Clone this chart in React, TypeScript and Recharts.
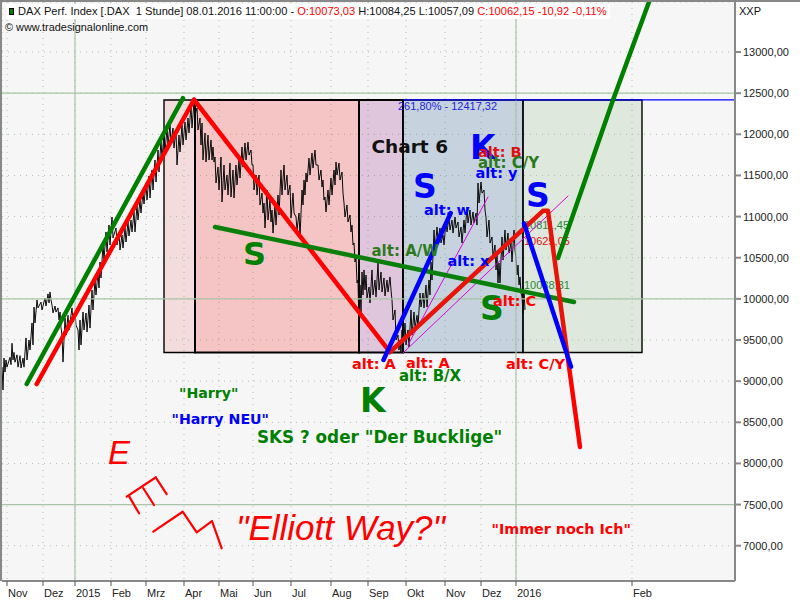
import { ComposedChart, Line, XAxis, YAxis, CartesianGrid, ReferenceArea, ReferenceLine, ReferenceDot } from "recharts"

// x is a running bar position along the time axis
const priceX = [2,4,6,10,12,14,17,20,23,26,29,32,34,37,41,45,48,50,52,55,58,60,62,65,68,72,75,78,80,83,86,89,92,95,98,100,103,106,109,112,116,119,122,125,128,131,134,137,140,143,146,149,152,155,158,161,164,167,170,173,176,179,182,185,188,191,194,197,200,202,205,208,211,213,215,218,221,224,227,230,233,236,239,242,245,248,251,253,256,259,262,264,267,270,272,275,278,281,284,287,290,293,296,299,302,304,306,309,312,315,318,321,323,325,328,331,334,336,339,342,344,347,350,352,354,356,358,360,362,364,366,369,372,375,378,381,384,387,390,392,395,398,400,402,405,408,411,414,417,420,423,426,429,431,434,437,440,443,446,449,452,455,458,461,464,467,470,473,476,478,481,484,486,489,492,495,497,499,502,505,508,511,514,516,518,520,522,524]
const priceHigh = [9172,9280,9257,9290,9460,9350,9320,9310,9280,9525,9500,9707,9900,9986,9960,10010,10060,10083,9925,9913,9890,9840,9560,9770,9800,9890,9840,9622,9743,9840,9828,9925,10108,10229,10326,10448,10655,10813,10898,10995,10861,10800,10776,10861,10934,10958,11056,11140,11201,11298,11408,11493,11566,11688,11809,11931,12028,12076,12113,12076,12052,11991,12113,12150,12198,12356,12392,12320,12198,12137,12016,11991,11931,11846,11724,11602,11724,11627,11505,11651,11566,11627,11688,11846,11895,11906,11809,11627,11505,11505,11286,11165,11323,11201,11080,11141,11262,11566,11627,11505,11384,11286,10995,11043,11323,11444,11530,11712,11773,11809,11627,11566,11444,11238,11323,11469,11566,11663,11651,11541,11165,11141,11019,10897,10679,10509,10229,10168,10326,10351,10290,10144,10351,10229,10436,10326,10254,10229,10266,9986,9865,9560,9500,9622,9707,9622,9865,9840,9800,10071,10071,10168,10229,10448,10837,10873,10861,10776,10958,10995,10958,10995,10934,10873,10958,11116,11080,11056,11043,11408,11420,11323,10995,10958,10752,10655,10533,10436,10752,10837,10800,10679,10837,10497,10412,10266,10022,10108]
const priceLow = [8892,9110,9170,9200,9257,9230,9170,9160,9170,9257,9378,9440,9707,9890,9865,9913,9950,9986,9830,9840,9743,9650,9232,9560,9622,9720,9680,9378,9440,9622,9597,9645,9865,10047,10132,10254,10472,10570,10655,10740,10655,10594,10618,10691,10764,10813,10813,10958,11043,11153,11201,11226,11323,11420,11541,11688,11785,11870,11894,11833,11627,11785,11870,11931,12016,12076,12234,12052,11870,11688,11663,11688,11688,11663,11408,11323,11177,11323,11262,11238,11226,11384,11469,11602,11688,11748,11627,11323,11262,11141,11043,10861,10958,10934,10800,10897,11019,11262,11323,11262,10983,11043,10837,10752,11141,11262,11420,11505,11590,11627,11444,11359,11201,11056,11141,11262,11384,11505,11444,11286,10995,10934,10813,10655,10448,10193,9622,9840,10047,10108,10010,9950,10047,10022,10108,10083,10035,10083,10108,9743,9500,9378,9342,9354,9440,9415,9560,9645,9658,9901,9889,9901,10047,10229,10594,10715,10679,10655,10813,10837,10800,10861,10752,10679,10800,10922,10897,10922,10897,11165,11286,11080,10752,10679,10509,10351,10193,10193,10472,10594,10557,10448,10594,10290,10169,10071,9828,9865]

const priceTicks = [7000,7500,8000,8500,9000,9500,10000,10500,11000,11500,12000,12500,13000]
const majorPrices = [7500,10000,12500]
const timeTicks = [7,43,75,111,146,184,219,253,291,331,368,406,445,481,516,632]
const timeLabels = ["Nov","Dez","2015","Feb","Mrz","Apr","Mai","Jun","Jul","Aug","Sep","Okt","Nov","Dez","2016","Feb"]
const majorTimes = [75,516]

const boxLow = 9348
const boxHigh = 12417
const boxEdges = [164,195,359,403,523,642]
const boxFills = ["#f19191","#f13531","#9d3991","#396d99","#9dc195"]
const fibLevel = 12417.32

const greenRise = [{ x: 26.7, p: 8965 }, { x: 183, p: 12440 }]
const redRise = [{ x: 36.7, p: 8965 }, { x: 194, p: 12420 }]
const redFall = [{ x: 194, p: 12420 }, { x: 390, p: 9354 }]
const shoulderLine = [{ x: 215, p: 10873 }, { x: 574, p: 9962 }]
const blueRise = [{ x: 383.5, p: 9257 }, { x: 450.7, p: 11043 }]
const blueFall = [{ x: 524, p: 10917 }, { x: 571, p: 9176 }]
const greenForecast = [{ x: 558, p: 10496 }, { x: 613, p: 12417 }, { x: 649, p: 13608 }]
const redSwing = [{ x: 390, p: 9354 }, { x: 543, p: 11070 }, { x: 548, p: 11070 }, { x: 567, p: 9354 }]
const redForecast = [{ x: 567, p: 9354 }, { x: 580, p: 8200 }]
const channelA = [{ x: 408, p: 9440 }, { x: 488, p: 11238 }]
const channelB = [{ x: 403, p: 9342 }, { x: 568, p: 11250 }]

const sketchE = [
  [{ x: 126.7, p: 7596 }, { x: 156, p: 7832 }],
  [{ x: 129.3, p: 7596 }, { x: 139, p: 7394 }],
  [{ x: 143.3, p: 7698 }, { x: 154, p: 7495 }],
  [{ x: 156.7, p: 7811 }, { x: 166.7, p: 7626 }],
]
const sketchWave = [{ x: 153.3, p: 7170 }, { x: 182.7, p: 7413 }, { x: 196.7, p: 7163 }, { x: 212, p: 7300 }, { x: 221.7, p: 6968 }]

const priceSeries = priceX.flatMap((x, i) => [
  { x, p: priceHigh[i] },
  { x: x + 1, p: priceLow[i] },
])

const BOLD = "'DejaVu Sans', sans-serif"
const PLAIN = "'Liberation Sans', sans-serif"
const GREEN = "#008000"
const BLUE = "#0000ff"
const RED = "#ff0000"

const notes = [
  { t: "Chart 6", x: 371.5, p: 11773, c: "#111111", s: 18.5 },
  { t: "S", x: 243, p: 10411, c: GREEN, s: 32 },
  { t: "S", x: 413, p: 11226, c: BLUE, s: 33 },
  { t: "K", x: 470, p: 11700, c: BLUE, s: 33 },
  { t: "S", x: 526, p: 11116, c: BLUE, s: 33 },
  { t: "S", x: 480, p: 9743, c: GREEN, s: 33 },
  { t: "K", x: 360, p: 8620, c: GREEN, s: 33 },
  { t: "alt: A", x: 352, p: 9148, c: RED, s: 14.5 },
  { t: "alt: A", x: 406, p: 9160, c: RED, s: 14.5 },
  { t: "alt: B/X", x: 399, p: 9002, c: GREEN, s: 15 },
  { t: "alt: C/Y", x: 506, p: 9148, c: RED, s: 14.5 },
  { t: "alt: C", x: 493, p: 9916, c: RED, s: 14.5 },
  { t: "alt: x", x: 447.5, p: 10403, c: BLUE, s: 14.5 },
  { t: "alt: w", x: 424, p: 11019, c: BLUE, s: 14.5 },
  { t: "alt: y", x: 475.5, p: 11473, c: BLUE, s: 14.5 },
  { t: "alt: B", x: 478, p: 11724, c: "#e01010", s: 14.5 },
  { t: "alt: C/Y", x: 478, p: 11594, c: "#2d7a1e", s: 15 },
  { t: "alt: A/W", x: 371.5, p: 10521, c: "#2d7a1e", s: 15 },
  { t: "\"Harry\"", x: 179, p: 8799, c: GREEN, s: 14.2 },
  { t: "\"Harry NEU\"", x: 171.5, p: 8479, c: BLUE, s: 14.2 },
  { t: "SKS ? oder \"Der Bucklige\"", x: 257, p: 8248, c: GREEN, s: 16.8 },
  { t: "\"Immer noch Ich\"", x: 491.5, p: 7142, c: RED, s: 14.3 },
]

const smallNotes = [
  { t: "261,80% - 12417,32", x: 398, p: 12290, c: "#2222dd" },
  { t: "10811,45", x: 524, p: 10849, c: "#2a8a3a" },
  { t: "10625,05", x: 524, p: 10654, c: "#e01010" },
  { t: "10038,31", x: 524, p: 10120, c: "#2a8a3a" },
]

const italicNotes = [
  { t: "E", x: 108, p: 7997, s: 33 },
  { t: "\"Elliott Way?\"", x: 236, p: 7070, s: 35 },
]

const TimeTick = ({ x, y, payload, index }: any) => (
  <g>
    <line x1={x} x2={x} y1={y - 8} y2={y - 3} stroke="#555555" />
    <text x={x + 1} y={y + 8} fontSize={11} fontFamily={PLAIN} fill="#222222">
      {timeLabels[index] ?? payload.value}
    </text>
  </g>
)

const PriceTick = ({ x, y, payload }: any) => (
  <text x={x} y={y + 4} fontSize={11} fontFamily={PLAIN} fill="#222222">
    {payload.value.toFixed(2).replace(".", ",")}
  </text>
)

const Trend = (data: { x: number; p: number }[], color: string, width: number, key: string) => (
  <Line
    key={key}
    data={data}
    dataKey="p"
    stroke={color}
    strokeWidth={width}
    strokeLinecap="round"
    strokeLinejoin="round"
    dot={false}
    activeDot={false}
    legendType="none"
    isAnimationActive={false}
    zIndex={400}
  />
)

export default function App() {
  return (
    <div style={{ position: "absolute", left: 0, top: 0, width: 800, height: 600, background: "#ffffff" }}>
      <ComposedChart width={800} height={600} margin={{ top: 2, right: 0, bottom: 0, left: 2 }}>
        <CartesianGrid fill="#f6f6f6" stroke="#a9c4a9" strokeDasharray="1 5" />
        <XAxis
          type="number"
          dataKey="x"
          domain={[2, 735]}
          ticks={timeTicks}
          interval={0}
          height={19}
          tick={<TimeTick />}
          tickLine={false}
          stroke="#888888"
          strokeWidth={2}
        />
        <YAxis
          orientation="right"
          type="number"
          domain={[6571, 13608]}
          ticks={priceTicks}
          interval={0}
          width={65}
          tick={<PriceTick />}
          tickSize={6}
          stroke="#888888"
          strokeWidth={2}
        />
        {majorPrices.map((p) => (
          <ReferenceLine key={p} y={p} stroke="#a9c4a9" strokeWidth={1.2} />
        ))}
        {majorTimes.map((x) => (
          <ReferenceLine key={x} x={x} stroke="#a9c4a9" strokeWidth={1.2} />
        ))}
        {boxFills.map((fill, i) => (
          <ReferenceArea
            key={fill}
            x1={boxEdges[i]}
            x2={boxEdges[i + 1]}
            y1={boxLow}
            y2={boxHigh}
            fill={fill}
            fillOpacity={0.25}
            stroke="#000000"
            strokeWidth={i > 0 && i < 3 ? 2 : 1.4}
          />
        ))}
        <Line
          data={priceSeries}
          dataKey="p"
          stroke="#0a0a0a"
          strokeWidth={1}
          dot={false}
          activeDot={false}
          isAnimationActive={false}
          zIndex={150}
        />
        <ReferenceLine
          segment={[{ x: 403, y: fibLevel }, { x: 735, y: fibLevel }]}
          stroke="#0000ff"
          strokeWidth={1.2}
        />
        {smallNotes.map((n) => (
          <ReferenceDot
            key={n.t}
            x={n.x}
            y={n.p}
            r={0}
            zIndex={200}
            shape={(d: any) => (
              <text x={d.cx} y={d.cy} fontFamily={PLAIN} fontSize={11} fill={n.c}>
                {n.t}
              </text>
            )}
          />
        ))}
        {Trend(channelA, "#e000e0", 1, "channelA")}
        {Trend(channelB, "#e000e0", 1, "channelB")}
        {Trend(greenRise, GREEN, 4.5, "greenRise")}
        {Trend(redRise, RED, 4.5, "redRise")}
        {Trend(redFall, RED, 4.5, "redFall")}
        {Trend(shoulderLine, "#0a800a", 4.5, "shoulder")}
        {Trend(redSwing, "#e8140a", 4.5, "redSwing")}
        {Trend(redForecast, RED, 4.5, "redForecast")}
        {Trend(blueRise, BLUE, 4.5, "blueRise")}
        {Trend(blueFall, BLUE, 4.5, "blueFall")}
        {Trend(greenForecast, GREEN, 4.5, "greenForecast")}
        {sketchE.map((s, i) => Trend(s, RED, 2.2, `e${i}`))}
        {Trend(sketchWave, RED, 2.2, "wave")}
        {notes.map((n) => (
          <ReferenceDot
            key={n.t + n.x}
            x={n.x}
            y={n.p}
            r={0}
            shape={(d: any) => (
              <text x={d.cx} y={d.cy} fontFamily={BOLD} fontWeight="bold" fontSize={n.s} fill={n.c}>
                {n.t}
              </text>
            )}
          />
        ))}
        {italicNotes.map((n) => (
          <ReferenceDot
            key={n.t}
            x={n.x}
            y={n.p}
            r={0}
            shape={(d: any) => (
              <text x={d.cx} y={d.cy} fontFamily={PLAIN} fontStyle="italic" fontSize={n.s} fill={RED}>
                {n.t}
              </text>
            )}
          />
        ))}
      </ComposedChart>

      <div style={{ position: "absolute", left: 0, top: 0, width: 800, height: 2, background: "#888888" }} />
      <div style={{ position: "absolute", left: 0, top: 0, width: 2, height: 581, background: "#888888" }} />
      <div
        style={{
          position: "absolute",
          left: 6,
          top: 4,
          width: 604,
          height: 15,
          background: "#ffffff",
          font: "11.1px/15px 'Liberation Sans', sans-serif",
          color: "#111111",
          whiteSpace: "pre",
        }}
      >
        <span
          style={{
            position: "absolute",
            left: 3,
            top: 4,
            width: 5,
            height: 7,
            background: "#008000",
            border: "1px solid #000000",
            boxSizing: "border-box",
          }}
        />
        <span style={{ marginLeft: 12 }}>DAX Perf. Index [.DAX  1 Stunde] 08.01.2016 11:00:00 - </span>
        <span style={{ color: "#ff0000" }}>O:10073,03</span>
        <span> H:10084,25 L:10057,09 </span>
        <span style={{ color: "#ff0000" }}>C:10062,15 -10,92 -0,11%</span>
      </div>
      <div
        style={{
          position: "absolute",
          left: 5,
          top: 20,
          font: "10.9px/14px 'Liberation Sans', sans-serif",
          color: "#111111",
        }}
      >
        © www.tradesignalonline.com
      </div>
      <div
        style={{
          position: "absolute",
          left: 739,
          top: 4,
          font: "11px/14px 'Liberation Sans', sans-serif",
          color: "#111111",
        }}
      >
        XXP
      </div>
    </div>
  )
}
